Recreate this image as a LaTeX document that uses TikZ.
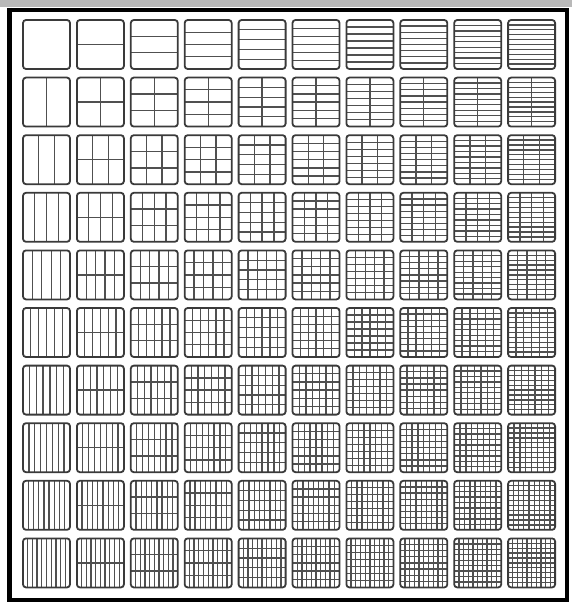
\documentclass[tikz,border=0pt]{standalone}
\definecolor{ink}{HTML}{3A3A3A}
\definecolor{inkl}{HTML}{505050}
\tikzset{
  cellbox/.style={draw=ink, line width=1.8pt, rounded corners=3pt},
  cellline/.style={draw=inkl, line width=1.3pt},
  framebox/.style={draw=black, line width=4pt}
}
\begin{document}
\begin{tikzpicture}[x=1pt,y=-1pt]
\useasboundingbox (0,0) rectangle (572,604);
\fill[white] (0,0) rectangle (572,604);
\fill[gray!55] (0,0) rectangle (572,7);
\draw[framebox] (9.5,10.5) -- (566.5,10.5) -- (566.5,600) -- (9.5,600) -- cycle;
\draw[black, line width=5pt] (9.5,8) -- (9.5,602);
\def\cw{47}
\def\ch{49}
\foreach \r in {1,...,10} {
  \foreach \c in {1,...,10} {
    \pgfmathsetmacro\xa{23+53.9*(\c-1)}
    \pgfmathsetmacro\ya{20+57.6*(\r-1)}
    \ifnum\r>1
      \foreach \k in {2,...,\r} {
        \pgfmathsetmacro\xx{\xa+\cw*(\k-1)/\r}
        \draw[cellline] (\xx,\ya) -- (\xx,\ya+\ch);
      }
    \fi
    \ifnum\c>1
      \foreach \k in {2,...,\c} {
        \pgfmathsetmacro\yy{\ya+\ch*(\k-1)/\c}
        \draw[cellline] (\xa,\yy) -- (\xa+\cw,\yy);
      }
    \fi
    \draw[cellbox] (\xa,\ya) rectangle (\xa+\cw,\ya+\ch);
  }
}
\end{tikzpicture}
\end{document}
